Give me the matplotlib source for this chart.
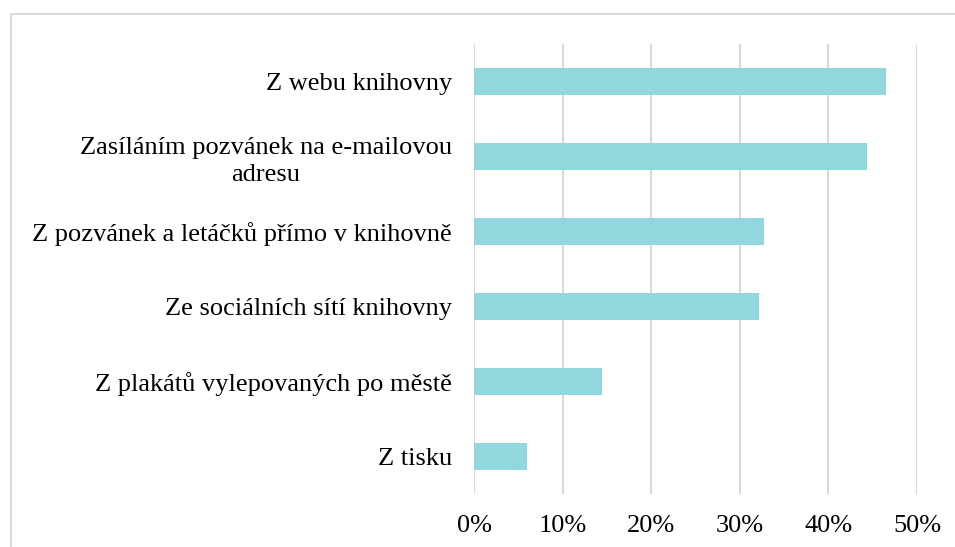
import numpy as np
import matplotlib.pyplot as plt
from matplotlib.patches import Rectangle

kategorie = [
    "Z webu knihovny",
    "Zasíláním pozvánek na e-mailovou\nadresu",
    "Z pozvánek a letáčků přímo v knihovně",
    "Ze sociálních sítí knihovny",
    "Z plakátů vylepovaných po městě",
    "Z tisku",
]
podily = [46.5, 44.4, 32.7, 32.2, 14.4, 6.0]
x_ticks = [0, 10, 20, 30, 40, 50]

plt.rcParams['font.family'] = ['Liberation Serif', 'DejaVu Serif']

fig = plt.figure(figsize=(9.55, 5.47), dpi=100)
ax = fig.add_axes([474/955, 1 - 494/547, (917-474)/955, (494-44)/547])

y = np.arange(len(kategorie))
ax.barh(y, podily, height=0.36, color="#92D7DE", zorder=3)
ax.set_ylim(len(kategorie) - 0.5, -0.5)
ax.set_xlim(0, 50)
ax.set_yticks(y)
ax.set_yticklabels(kategorie, fontsize=19, multialignment='center', linespacing=1.3)
ax.set_xticks(x_ticks)
ax.set_xticklabels([f"{t}%" for t in x_ticks], fontsize=19)
ax.tick_params(length=0)
ax.tick_params(axis='y', pad=16)
ax.tick_params(axis='x', pad=15)
ax.grid(axis='x', color="#D9D9D9", lw=1.5, zorder=0)
for s in ax.spines.values():
    s.set_visible(False)

# ramecek okolo grafu
fig.patches.append(Rectangle((11/955, -0.1), 1.2, 1 - 14/547 + 0.1,
                             transform=fig.transFigure, fill=False,
                             edgecolor="#D9D9D9", lw=1.5))

fig.savefig("out.png", dpi=100)
